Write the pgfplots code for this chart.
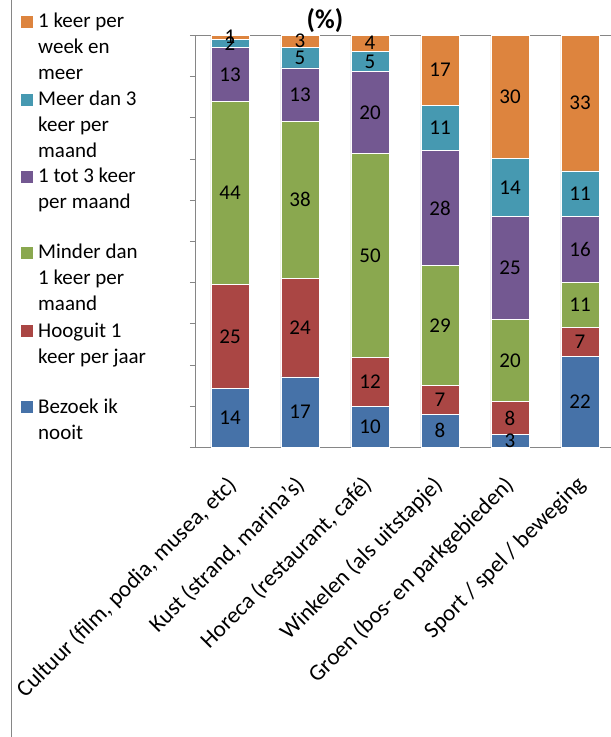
\documentclass[border=0pt]{standalone}
\usepackage{pgfplots}
\pgfplotsset{compat=1.18}
\usepackage{fontspec}
\setmainfont{Carlito}
\definecolor{cblue}{HTML}{4672A8}
\definecolor{cred}{HTML}{AA4644}
\definecolor{cgreen}{HTML}{8AA84F}
\definecolor{cpurple}{HTML}{735891}
\definecolor{cteal}{HTML}{4699B1}
\definecolor{corange}{HTML}{DD843E}
\definecolor{axgray}{HTML}{868686}
\begin{document}
\begin{tikzpicture}
\useasboundingbox (-195pt,-290pt) rectangle (416pt,447pt);
\begin{axis}[
  at={(0pt,0pt)}, anchor=south west,
  scale only axis, width=420pt, height=412pt,
  xmin=-0.5, xmax=5.5, ymin=0, ymax=100,
  ybar stacked, bar width=38pt,
  axis line style={axgray},
  ytick={0,10,...,100}, yticklabels={},
  tick align=outside, major tick length=5pt,
  y tick style={axgray},
  xtick={-0.06,0.91,1.87,2.88,3.9,4.93},
  x tick style={draw=none},
  xticklabels={{Cultuur (film, podia, musea, etc)},{Kust (strand, marina’s)},{Horeca (restaurant, café)},{Winkelen (als uitstapje)},{Groen (bos- en parkgebieden)},{Sport / spel / beweging}},
  xticklabel shift=22pt,
  xticklabel style={rotate=45, anchor=north east, inner sep=0pt, font=\fontsize{23}{26}\selectfont},
  every axis plot/.append style={draw=white, line width=0.8pt},
  nodes near coords,
  point meta=explicit symbolic,
  every node near coord/.append style={anchor=center, font=\fontsize{21}{24}\selectfont, text=black},
]
\addplot[fill=cblue] coordinates {(0,14.14)[14] (1,17)[17] (2,9.90)[10] (3,8)[8] (4,3)[3] (5,22)[22]};
\addplot[fill=cred] coordinates {(0,25.25)[25] (1,24)[24] (2,11.88)[12] (3,7)[7] (4,8)[8] (5,7)[7]};
\addplot[fill=cgreen] coordinates {(0,44.44)[44] (1,38)[38] (2,49.50)[50] (3,29)[29] (4,20)[20] (5,11)[11]};
\addplot[fill=cpurple] coordinates {(0,13.13)[13] (1,13)[13] (2,19.80)[20] (3,28)[28] (4,25)[25] (5,16)[16]};
\addplot[fill=cteal] coordinates {(0,2.02)[2] (1,5)[5] (2,4.95)[5] (3,11)[11] (4,14)[14] (5,11)[11]};
\addplot[fill=corange] coordinates {(0,1.01)[1] (1,3)[3] (2,3.96)[4] (3,17)[17] (4,30)[30] (5,33)[33]};
\end{axis}
% legend
\foreach \c/\by/\la/\lb/\lc in {corange/28/1 keer per/week en/meer, cteal/106/Meer dan 3/keer per/maand, cpurple/183/1 tot 3 keer/per maand/, cgreen/259/Minder dan/1 keer per/maand, cred/337/Hooguit 1/keer per jaar/, cblue/413/Bezoek ik/nooit/}{
  \fill[\c] (-174pt,{447pt-\by pt}) rectangle (-162pt,{459pt-\by pt});
  \node[anchor=base west, inner sep=0pt, font=\fontsize{21}{26}\selectfont] at (-157pt,{447pt-\by pt}) {\la};
  \node[anchor=base west, inner sep=0pt, font=\fontsize{21}{26}\selectfont] at (-157pt,{421pt-\by pt}) {\lb};
  \node[anchor=base west, inner sep=0pt, font=\fontsize{21}{26}\selectfont] at (-157pt,{395pt-\by pt}) {\lc};
}
\node[font=\bfseries\fontsize{27}{30}\selectfont] at (130pt,426pt) {(\%)};
\draw[axgray, line width=1pt] (-183pt,-290pt) -- (-183pt,447pt);
\end{tikzpicture}
\end{document}
